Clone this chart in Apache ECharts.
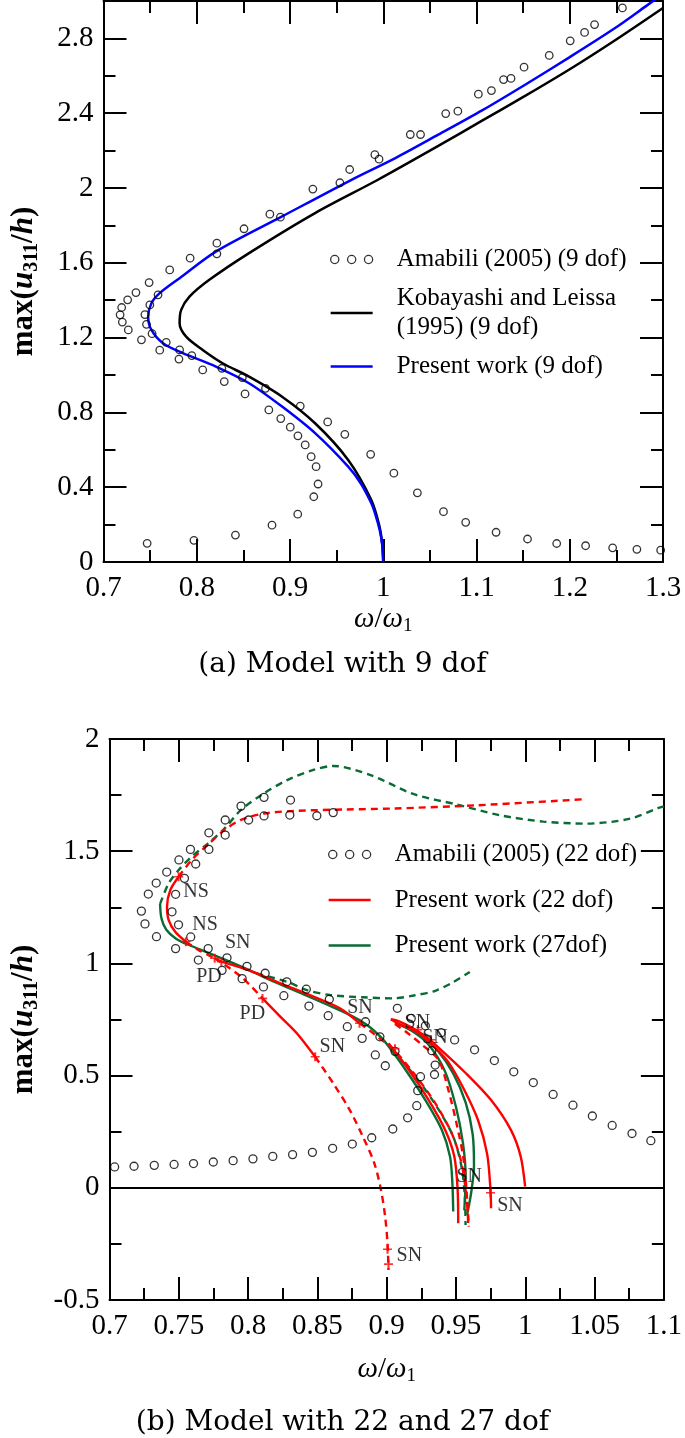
<!DOCTYPE html>
<html>
<head>
<meta charset="utf-8">
<script src="https://cdn.jsdelivr.net/npm/echarts@6/dist/echarts.min.js"></script>
<style>
html,body{margin:0;padding:0;background:#fff;}
#c{width:685px;height:1438px;}
</style>
</head>
<body>
<div id="c"></div>
<script>
// ---------- Chart (a): 9 dof ----------
const xTicksA = [0.7, 1.3, 0.1];
const yTicksA = [0, 3.0, 0.4];
const amabili9 = [
  [1.2565,2.963],[1.2266,2.874],[1.2159,2.832],[1.2005,2.787],[1.178,2.709],[1.151,2.646],[1.137,2.586],[1.129,2.580],
  [1.116,2.521],[1.102,2.502],[1.080,2.411],[1.067,2.398],[1.040,2.286],[1.029,2.286],[0.9955,2.154],[0.991,2.178],
  [0.964,2.099],[0.9535,2.028],
  [0.9245,1.994],[0.8897,1.844],[0.8784,1.860],[0.8507,1.782],[0.8216,1.705],[0.8216,1.648],[0.7929,1.625],[0.7710,1.562],
  [0.7585,1.429],[0.7489,1.494],[0.7348,1.441],[0.7259,1.402],[0.7195,1.361],[0.7178,1.322],[0.7202,1.283],[0.7266,1.241],
  [0.7497,1.375],[0.7444,1.323],[0.7461,1.271],[0.7521,1.221],[0.7407,1.188],[0.7673,1.175],[0.7603,1.133],[0.7816,1.134],
  [0.7809,1.085],[0.7947,1.104],[0.8064,1.027],[0.8269,1.036],[0.8295,0.965],[0.8489,0.986],[0.8518,0.899],[0.8737,0.929],
  [0.8773,0.813],[0.9110,0.834],[0.8901,0.767],[0.9003,0.721],[0.9085,0.675],[0.9163,0.626],[0.9227,0.563],[0.9280,0.510],
  [0.9301,0.417],[0.9255,0.349],[0.9083,0.256],[0.8807,0.197],[0.8415,0.144],[0.797,0.116],[0.7468,0.100],
  [0.9404,0.749],[0.9588,0.683],[0.9865,0.576],[1.0114,0.475],[1.0366,0.370],[1.0646,0.269],[1.0884,0.212],[1.121,0.159],
  [1.1547,0.123],[1.186,0.099],[1.217,0.087],[1.246,0.076],[1.272,0.068],[1.2975,0.063]
];
const kobayashi9 = [
  [1.0,0],[0.9988,0.1],[0.9955,0.2],[0.9872,0.332],[0.9624,0.546],[0.9269,0.742],[0.8915,0.884],[0.8561,0.991],
  [0.8277,1.063],[0.8064,1.134],[0.7886,1.205],[0.7816,1.277],[0.7833,1.348],[0.7922,1.419],[0.8135,1.509],[0.8561,1.652],
  [0.9269,1.866],[0.9943,2.044],[1.059,2.225],[1.106,2.36],[1.153,2.495],[1.2,2.635],[1.247,2.785],[1.3,2.963]
];
const present9 = [
  [1.0,0],[0.9987,0.1],[0.9963,0.169],[0.9916,0.254],[0.9872,0.314],[0.976,0.42],[0.9624,0.510],[0.9269,0.689],
  [0.8915,0.831],[0.8561,0.956],[0.8205,1.045],[0.7851,1.117],[0.7638,1.170],[0.7514,1.241],[0.7479,1.312],[0.7514,1.384],
  [0.7603,1.438],[0.7816,1.518],[0.8205,1.660],[0.8915,1.848],[0.966,2.044],[1.013,2.160],[1.059,2.285],[1.106,2.415],
  [1.153,2.555],[1.2,2.70],[1.247,2.85],[1.281,2.97],[1.292,3.01]
];

// ---------- Chart (b): 22 and 27 dof ----------
const xTicksB = [0.7, 1.1, 0.05];
const yTicksB = [-0.5, 2, 0.5];
const amabili22 = [
  [0.7037,0.093],[0.7177,0.096],[0.7323,0.100],[0.7466,0.104],[0.7606,0.108],[0.7749,0.115],[0.7892,0.121],[0.8035,0.129],
  [0.8178,0.140],[0.8321,0.148],[0.8464,0.158],[0.861,0.176],[0.8752,0.195],[0.8892,0.223],[0.9044,0.262],[0.9151,0.312],
  [0.9217,0.366],[0.9224,0.433],[0.9244,0.495],
  [0.8614,1.672],[0.8496,1.658],[0.8306,1.728],[0.8301,1.661],[0.8115,1.740],[0.8115,1.657],[0.8004,1.639],[0.7949,1.701],
  [0.7835,1.639],[0.7835,1.572],[0.7717,1.582],[0.7717,1.508],[0.7584,1.508],[0.7622,1.443],[0.7501,1.461],[0.7413,1.407],
  [0.7541,1.379],[0.7337,1.358],[0.728,1.309],[0.7477,1.308],[0.723,1.233],[0.7451,1.230],[0.7256,1.176],[0.7498,1.172],
  [0.7339,1.119],[0.7586,1.118],[0.7477,1.066],[0.7712,1.066],[0.7641,1.015],[0.7848,1.025],[0.7812,0.969],[0.7992,0.987],
  [0.7957,0.932],[0.8123,0.956],[0.8111,0.895],[0.8279,0.918],[0.8258,0.856],[0.842,0.885],[0.8439,0.810],[0.8586,0.840],
  [0.8578,0.767],[0.8716,0.718],[0.8847,0.740],[0.8823,0.666],[0.8918,0.592],[0.899,0.544],[0.8951,0.673],[0.906,0.608],
  [0.9077,0.800],[0.9177,0.755],[0.9279,0.722],[0.9393,0.691],[0.949,0.659],[0.9634,0.615],[0.9777,0.567],[0.9917,0.517],
  [1.0058,0.469],[1.0201,0.416],[1.0344,0.368],[1.0484,0.320],[1.0627,0.278],[1.077,0.242],[1.0906,0.210],
  [0.9326,0.611],[0.935,0.547],[0.9345,0.505]
];
// Present work 22 dof (red): solid = stable, dashed = unstable
const red22SolidNose = [[0.7499,1.386],[0.7439,1.327],[0.7415,1.253],[0.7427,1.193],[0.7474,1.141],[0.7551,1.097]];
const red22DashedUpper = [[0.7499,1.386],[0.7593,1.461],[0.7712,1.530],[0.7831,1.595],[0.7949,1.640],[0.8115,1.668],
  [0.8353,1.680],[0.8709,1.686],[0.904,1.690],[0.9661,1.705],[1.0407,1.731]];
const red22DashedNS = [[0.7551,1.097],[0.7641,1.060],[0.7736,1.030],[0.7807,1.008]];
const red22SolidMain = [[0.7807,1.008],[0.7997,0.971],[0.8234,0.911],[0.8472,0.852],[0.8662,0.800],[0.8804,0.733]];
const red22DashedMain = [[0.8804,0.733],[0.888,0.70],[0.895,0.665],[0.903,0.629],[0.9196,0.510],[0.935,0.377],
  [0.9469,0.243],[0.954,0.109],[0.9576,-0.040],[0.9593,-0.173]];
const red22DashedPD = [[0.7759,1.023],[0.7949,0.941],[0.8104,0.844]];
const red22SolidPD = [[0.8104,0.844],[0.8234,0.762],[0.8353,0.688],[0.8484,0.584]];
const red22DashedSN = [[0.8484,0.584],[0.8614,0.466],[0.8733,0.347],[0.8828,0.228],[0.8911,0.109],[0.8959,-0.010],
  [0.8989,-0.129],[0.9006,-0.247],[0.9013,-0.366]];
const red22SolidA = [[0.9013,0.644],[0.916,0.525],[0.9303,0.391],[0.9422,0.258],[0.9488,0.139],[0.9512,-0.010],[0.9516,-0.158]];
const red22SolidB = [[0.903,0.751],[0.908,0.733],[0.916,0.712],[0.925,0.68],[0.935,0.625],[0.9445,0.56],[0.956,0.436],
  [0.966,0.30],[0.9725,0.15],[0.9749,-0.010],[0.9753,-0.091]];
const red22SolidC = [[0.903,0.751],[0.9089,0.742],[0.9184,0.713],[0.9279,0.675],[0.9374,0.625],[0.9564,0.515],
  [0.9753,0.391],[0.9896,0.258],[0.9967,0.139],[0.9999,0.005]];
const red22DashedB = [[0.906,0.73],[0.915,0.69],[0.925,0.64],[0.9374,0.570],[0.9445,0.436],[0.9504,0.287],[0.9552,0.139],
  [0.9576,-0.010],[0.9588,-0.158]];
// Present work 27 dof (green)
const green27SolidMain = [[0.7365,1.265],[0.7375,1.20],[0.741,1.15],[0.748,1.11],[0.757,1.083],[0.77,1.05],[0.785,1.012],
  [0.80,0.972],[0.82,0.915],[0.84,0.862],[0.86,0.808],[0.875,0.765],[0.887,0.72],[0.896,0.67],[0.9006,0.636],[0.9137,0.525],
  [0.9279,0.391],[0.9398,0.258],[0.9457,0.139],[0.9474,0.020],[0.948,-0.106]];
const green27DashedUpper = [[0.7365,1.265],[0.7427,1.357],[0.7499,1.416],[0.7593,1.476],[0.7712,1.535],[0.7831,1.602],
  [0.7949,1.684],[0.8115,1.758],[0.8282,1.817],[0.8471,1.862],[0.8614,1.880],[0.8884,1.839],[0.9196,1.754],[0.9507,1.708],
  [0.9818,1.660],[1.0129,1.632],[1.044,1.623],[1.075,1.644],[1.0968,1.694],[1.1,1.70]];
const green27DashedMid = [[0.806,0.955],[0.8282,0.918],[0.8424,0.881],[0.859,0.859],[0.8828,0.849],[0.904,0.844],
  [0.9196,0.857],[0.9351,0.878],[0.9476,0.915],[0.96,0.962]];
const green27SolidB = [[0.906,0.735],[0.918,0.70],[0.93,0.64],[0.942,0.52],[0.950,0.36],[0.955,0.2],[0.957,0.05],[0.956,-0.1]];
const green27SolidC = [[0.912,0.722],[0.925,0.678],[0.937,0.61],[0.948,0.51],[0.957,0.38],[0.962,0.24],[0.963,0.1],
  [0.961,-0.02],[0.958,-0.12]];
const green27DashedB = [[0.9041,0.614],[0.9208,0.495],[0.9362,0.361],[0.948,0.228],[0.954,0.094],[0.9564,-0.040],[0.9569,-0.166]];
// bifurcation markers and their labels
const markers22 = [[0.7499,1.386],[0.7551,1.097],[0.7759,1.023],[0.7807,1.008],[0.8104,0.844],[0.8804,0.733],[0.8484,0.584],
  [0.9006,-0.274],[0.9013,-0.340],[0.9749,-0.022],[0.906,0.62],[0.9225,0.705],[0.932,0.66]];
const labels22 = [[0.7529,1.320,'NS'],[0.7593,1.171,'NS'],[0.7829,1.092,'SN'],[0.7622,0.939,'PD'],[0.7935,0.775,'PD'],
  [0.8512,0.627,'SN'],[0.8711,0.801,'SN'],[0.9125,0.734,'SN'],[0.9253,0.668,'SN'],[0.950,0.048,'SN'],[0.9794,-0.081,'SN'],
  [0.9068,-0.304,'SN']];

// ---------- styling ----------
const SERIF = 'Liberation Serif';
const CAPTION_FONT = 'DejaVu Serif';
const RED = '#ff0000', GREEN = '#0a6b35', BLUE = '#0000ff';
const circlesIcon = 'path://M0.5,4.5a4,4 0 1,0 8,0a4,4 0 1,0 -8,0M17,4.5a4,4 0 1,0 8,0a4,4 0 1,0 -8,0M33.5,4.5a4,4 0 1,0 8,0a4,4 0 1,0 -8,0';
const lineIcon = 'path://M0,0H42V2.4H0Z';
const plusIcon = 'path://M-0.9,-5H0.9V-0.9H4V0.9H0.9V5H-0.9V0.9H-4V-0.9H-0.9Z';

const nameRich = {
  n: {fontFamily: SERIF, fontSize: 29, color: '#000', lineHeight: 34},
  i: {fontFamily: SERIF, fontSize: 29, fontStyle: 'italic', color: '#000', lineHeight: 34},
  s: {fontFamily: SERIF, fontSize: 19, color: '#000', verticalAlign: 'bottom', lineHeight: 22}
};
const yNameRich = {
  n: {fontFamily: SERIF, fontSize: 31, fontWeight: 'bold', color: '#000', lineHeight: 36},
  i: {fontFamily: SERIF, fontSize: 31, fontWeight: 'bold', fontStyle: 'italic', color: '#000', lineHeight: 36},
  s: {fontFamily: SERIF, fontSize: 20, fontWeight: 'bold', color: '#000', verticalAlign: 'bottom', lineHeight: 23}
};
const X_NAME = '{i|ω}{n|/}{i|ω}{s|1}';
const Y_NAME = '{n|max(}{i|u}{s|311}{n|/}{i|h}{n|)}';

const AX_LINE = {show: true, onZero: false, lineStyle: {color: '#000', width: 2}};
const LABEL = {fontFamily: SERIF, fontSize: 29, color: '#000'};

function xAxis(grid, ticks, pos, withLabels, opts) {
  return Object.assign({
    type: 'value', gridIndex: grid, position: pos, min: ticks[0], max: ticks[1], interval: ticks[2],
    axisLine: AX_LINE,
    axisTick: {show: true, inside: true, length: 23, lineStyle: {color: '#000', width: 2}},
    minorTick: {show: true, splitNumber: 2, length: 12, lineStyle: {color: '#000', width: 2}},
    axisLabel: withLabels ? Object.assign({margin: 12}, LABEL) : {show: false},
    splitLine: {show: false}, minorSplitLine: {show: false}
  }, opts || {});
}
function yAxis(grid, ticks, pos, withLabels, opts) {
  return Object.assign({
    type: 'value', gridIndex: grid, position: pos, min: ticks[0], max: ticks[1], interval: ticks[2],
    axisLine: AX_LINE,
    axisTick: {show: true, inside: true, length: 23, lineStyle: {color: '#000', width: 2}},
    minorTick: {show: true, splitNumber: 2, length: 12, lineStyle: {color: '#000', width: 2}},
    axisLabel: withLabels ? Object.assign({margin: 10}, LABEL) : {show: false},
    splitLine: {show: false}, minorSplitLine: {show: false}
  }, opts || {});
}

const yA = yTicksA;
const hideTop = v => (Math.abs(v - yA[1]) < 1e-9 ? '' : String(+v.toFixed(2)));

const xAxes = [
  xAxis(0, xTicksA, 'bottom', true, {name: X_NAME, nameLocation: 'middle', nameGap: 40, nameTextStyle: {rich: nameRich}}),
  xAxis(0, xTicksA, 'top', false),
  xAxis(1, xTicksB, 'bottom', true, {name: X_NAME, nameLocation: 'middle', nameGap: 52, nameTextStyle: {rich: nameRich}}),
  xAxis(1, xTicksB, 'top', false)
];
const yAxes = [
  yAxis(0, yTicksA, 'left', true, {minorTick: {show: false},
    axisLabel: Object.assign({margin: 10, formatter: hideTop}, LABEL),
    name: Y_NAME, nameLocation: 'middle', nameRotate: 90, nameGap: 62, nameTextStyle: {rich: yNameRich}}),
  yAxis(0, [yTicksA[0], yTicksA[1], yTicksA[2] / 2], 'left', false, {axisLine: {show: false}, minorTick: {show: false},
    axisTick: {show: true, inside: true, length: 12, lineStyle: {color: '#000', width: 2}}}),
  yAxis(0, yTicksA, 'right', false, {minorTick: {show: false}}),
  yAxis(0, [yTicksA[0], yTicksA[1], yTicksA[2] / 2], 'right', false, {axisLine: {show: false}, minorTick: {show: false},
    axisTick: {show: true, inside: true, length: 12, lineStyle: {color: '#000', width: 2}}}),
  yAxis(1, yTicksB, 'left', true, {name: Y_NAME, nameLocation: 'middle', nameRotate: 90, nameGap: 68,
    nameTextStyle: {rich: yNameRich}}),
  yAxis(1, yTicksB, 'right', false)
];

function line(name, data, color, dashed, xi, yi, width) {
  return {
    type: 'line', name: name, data: data, xAxisIndex: xi, yAxisIndex: yi,
    showSymbol: false, symbol: 'none', smooth: 0.3, clip: true, z: 3,
    lineStyle: {color: color, width: width || 2.4, type: dashed ? [7, 5] : 'solid'},
    itemStyle: {color: color}
  };
}
const N9A = 'Amabili (2005) (9 dof)', N9K = 'Kobayashi and Leissa\n(1995) (9 dof)', N9P = 'Present work (9 dof)';
const N22A = 'Amabili (2005) (22 dof)', N22P = 'Present work (22 dof)', N27P = 'Present work (27dof)';

const series = [
  line(N9K, kobayashi9, '#000', false, 0, 0, 2.5),
  line(N9P, present9, BLUE, false, 0, 0, 2.5),
  {type: 'scatter', name: N9A, data: amabili9, xAxisIndex: 0, yAxisIndex: 0, symbol: 'circle', symbolSize: 7.5, z: 4,
    itemStyle: {color: 'rgba(0,0,0,0)', borderColor: '#000', borderWidth: 1.3}},
  // chart b
  line(N22P, red22SolidNose, RED, false, 2, 4),
  line(N27P, green27SolidMain, GREEN, false, 2, 4),
  line(N27P, green27DashedUpper, GREEN, true, 2, 4),
  line(N27P, green27DashedMid, GREEN, true, 2, 4),
  line(N27P, green27SolidB, GREEN, false, 2, 4),
  line(N27P, green27SolidC, GREEN, false, 2, 4),
  line(N27P, green27DashedB, GREEN, true, 2, 4),
  line(N22P, red22DashedUpper, RED, true, 2, 4),
  line(N22P, red22DashedNS, RED, true, 2, 4),
  line(N22P, red22SolidMain, RED, false, 2, 4),
  line(N22P, red22DashedMain, RED, true, 2, 4),
  line(N22P, red22DashedPD, RED, true, 2, 4),
  line(N22P, red22SolidPD, RED, false, 2, 4),
  line(N22P, red22DashedSN, RED, true, 2, 4),
  line(N22P, red22SolidA, RED, false, 2, 4),
  line(N22P, red22SolidB, RED, false, 2, 4),
  line(N22P, red22SolidC, RED, false, 2, 4),
  line(N22P, red22DashedB, RED, true, 2, 4),
  {type: 'scatter', name: N22A, data: amabili22, xAxisIndex: 2, yAxisIndex: 4, symbol: 'circle', symbolSize: 8, z: 4,
    itemStyle: {color: 'rgba(0,0,0,0)', borderColor: '#000', borderWidth: 1.3},
    markLine: {silent: true, symbol: 'none', label: {show: false}, animation: false,
      lineStyle: {color: '#000', width: 2, type: 'solid'}, data: [{yAxis: 0}]}},
  {type: 'scatter', name: 'markers', data: markers22, xAxisIndex: 2, yAxisIndex: 4, symbol: plusIcon, symbolSize: 9, z: 5,
    itemStyle: {color: RED}},
  {type: 'scatter', name: 'labels', data: labels22, xAxisIndex: 2, yAxisIndex: 4, symbolSize: 1, z: 6,
    itemStyle: {color: 'rgba(0,0,0,0)'},
    label: {show: true, position: 'right', distance: 0, formatter: p => p.value[2],
      fontFamily: SERIF, fontSize: 20, color: '#000'}}
];

const legendText = {fontFamily: SERIF, fontSize: 25, color: '#000', lineHeight: 29, padding: [0, 0, 0, 19]};
const captionStyle = {fontFamily: CAPTION_FONT, fontSize: 28, fontWeight: 'normal', color: '#000', lineHeight: 32};
const option = {
  animation: false,
  backgroundColor: '#fff',
  grid: [
    {left: 100, top: 1, width: 563, height: 561, containLabel: false},
    {left: 106.7, top: 739, width: 561.6, height: 561, containLabel: false}
  ],
  xAxis: xAxes,
  yAxis: yAxes,
  title: [
    {text: '(a) Model with 9 dof', left: 'center', top: 644, textStyle: captionStyle},
    {text: '(b) Model with 22 and 27 dof', left: 'center', top: 1402, textStyle: captionStyle}
  ],
  legend: [
    {left: 330, top: 245, orient: 'vertical', padding: 0, itemGap: 10, itemWidth: 42, itemHeight: 9,
      selectedMode: false, textStyle: legendText,
      data: [
        {name: N9A, icon: circlesIcon, itemStyle: {color: 'rgba(0,0,0,0)', borderColor: '#000', borderWidth: 1.3}},
        {name: N9K, icon: lineIcon, itemStyle: {color: '#000', borderWidth: 0}},
        {name: N9P, icon: lineIcon, itemStyle: {color: BLUE, borderWidth: 0}}
      ]},
    {left: 328, top: 840, orient: 'vertical', padding: 0, itemGap: 16.5, itemWidth: 42, itemHeight: 9,
      selectedMode: false, textStyle: legendText,
      data: [
        {name: N22A, icon: circlesIcon, itemStyle: {color: 'rgba(0,0,0,0)', borderColor: '#000', borderWidth: 1.3}},
        {name: N22P, icon: lineIcon, itemStyle: {color: RED, borderWidth: 0}},
        {name: N27P, icon: lineIcon, itemStyle: {color: GREEN, borderWidth: 0}}
      ]}
  ],
  series: series
};
const chart = echarts.init(document.getElementById('c'), null, {renderer: 'canvas'});
chart.setOption(option);
</script>
</body>
</html>
